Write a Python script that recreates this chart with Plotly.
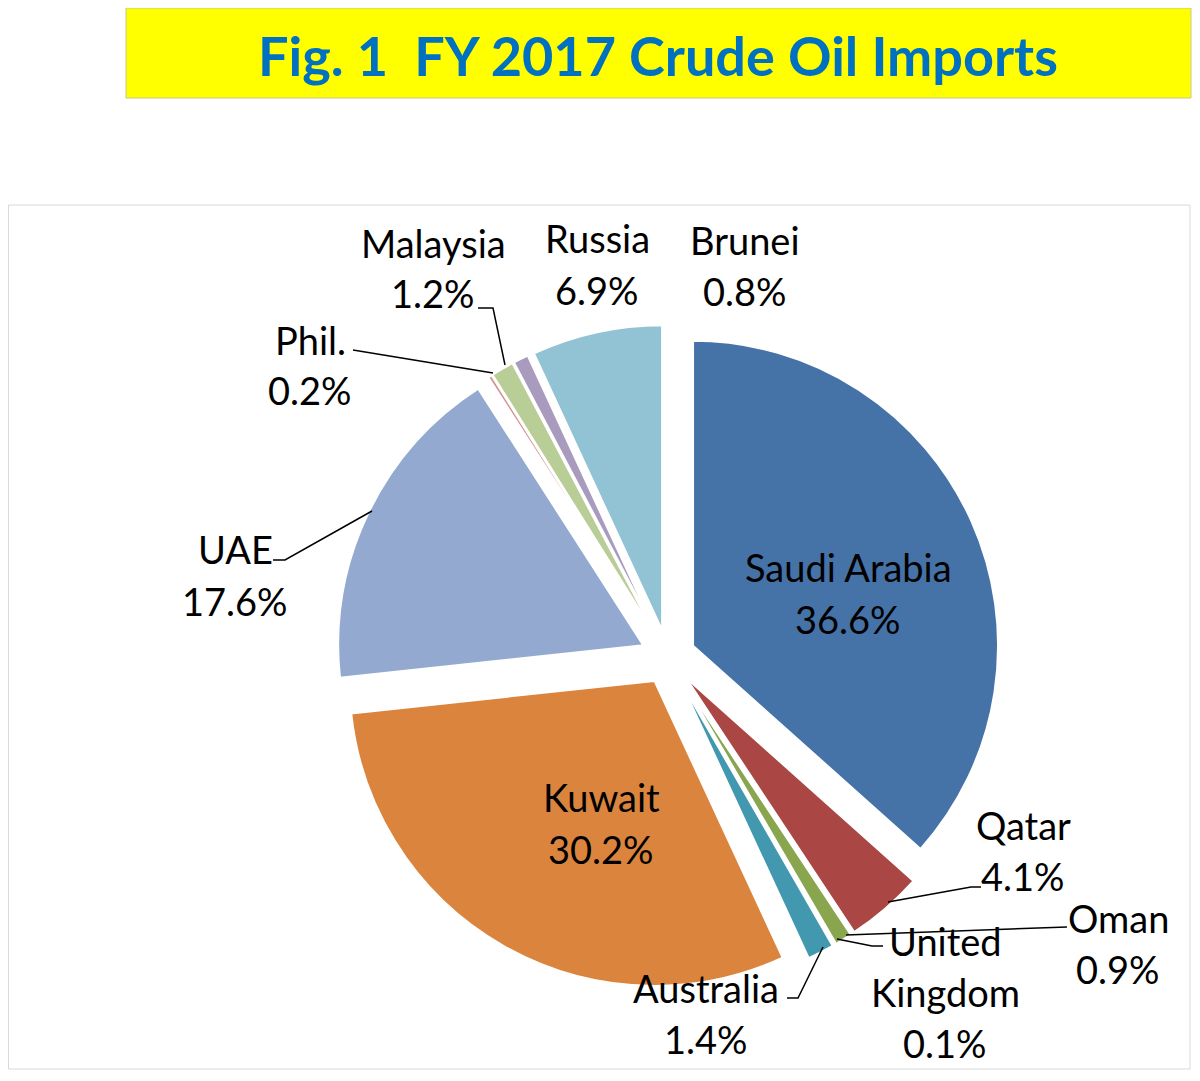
import plotly.graph_objects as go

# ---- data ----
countries = ["Saudi Arabia", "Qatar", "Oman", "United Kingdom", "Australia",
             "Kuwait", "UAE", "Phil.", "Malaysia", "Brunei", "Russia"]
shares = [36.6, 4.1, 0.9, 0.1, 1.4, 30.2, 17.6, 0.2, 1.2, 0.8, 6.9]
display_names = ["Saudi Arabia", "Qatar", "Oman", "United<br>Kingdom", "Australia",
                 "Kuwait", "UAE", "Phil.", "Malaysia", "Brunei", "Russia"]
slice_colors = ["#4572A7", "#AA4643", "#89A54E", "#71588F", "#4198AF",
                "#DB843D", "#93A9CF", "#D19392", "#B9CD96", "#A99BBD", "#92C3D4"]

# the page body has an 8px margin; the figure is sized/offset to compensate
OFF = 8
W, H = 1184, 1065

def px(x):
    return (x - OFF) / W

def py(y):
    return 1 - (y - OFF) / H

# pie geometry (page pixels)
cx, cy, R, PULL = 668, 657, 305, 0.09
half = R * (1 + PULL)

fig = go.Figure(go.Pie(
    labels=countries,
    values=shares,
    sort=False,
    direction="clockwise",
    rotation=0,
    pull=[PULL] * len(shares),
    marker=dict(colors=slice_colors, line=dict(color="white", width=2)),
    textinfo="none",
    hoverinfo="label+percent",
    showlegend=False,
    domain=dict(x=[px(cx - half), px(cx + half)], y=[py(cy + half), py(cy - half)]),
))

# label positions: (name x, name y, value y) in page pixels
label_pos = {
    "Saudi Arabia": (848, 567, 619),
    "Qatar": (1023, 825, 876),
    "Oman": (1118, 918, 969),
    "United Kingdom": (945, 941, 1043),
    "Australia": (706, 988, 1039),
    "Kuwait": (601, 797, 849),
    "UAE": (235, 549, 601),
    "Phil.": (310, 340, 390),
    "Malaysia": (433, 243, 293),
    "Brunei": (745, 240, 291),
    "Russia": (597, 238, 290),
}

FONT = "Lato, 'Liberation Sans', sans-serif"
FS = 38
annotations = []

def add_text(x, y, text, size=FS, color="black"):
    annotations.append(dict(x=px(x), y=py(y), xref="paper", yref="paper",
                            text=text, showarrow=False,
                            font=dict(family=FONT, size=size, color=color),
                            xanchor="center", yanchor="middle"))

for name, disp, val in zip(countries, display_names, shares):
    x, y1, y2 = label_pos[name]
    parts = disp.split("<br>")
    if len(parts) > 1:
        ys = [y1, (y1 + y2) / 2]
    else:
        ys = [y1]
    for p_, yy in zip(parts, ys):
        add_text(x, yy, p_)
    add_text(x, y2, f"{val:.1f}%")

# title
add_text(658, 55, "<b>Fig. 1  FY 2017 Crude Oil Imports</b>", size=54, color="#0070C0")

# leader lines (page-pixel polylines)
leaders = [
    [(981, 887), (971, 887), (888, 902)],
    [(1067, 927), (846, 935)],
    [(883, 946), (872, 946), (837, 939)],
    [(787, 998), (798, 998), (823, 947)],
    [(273, 560), (285, 560), (372, 511)],
    [(353, 350), (493, 373)],
    [(478, 308), (493, 308), (505, 365)],
]

shapes = [
    dict(type="rect", xref="paper", yref="paper", x0=px(126), x1=px(1191),
         y0=py(98), y1=py(8), fillcolor="#FFFF00", line=dict(color="#C8C88C", width=1), layer="below"),
    dict(type="rect", xref="paper", yref="paper", x0=px(8.5), x1=px(1190),
         y0=py(1069), y1=py(205), fillcolor="rgba(0,0,0,0)", line=dict(color="#D9D9D9", width=1), layer="below"),
]
for pts in leaders:
    path = "M " + " L ".join(f"{px(a)},{py(b)}" for a, b in pts)
    shapes.append(dict(type="path", xref="paper", yref="paper", path=path,
                       line=dict(color="black", width=1.5)))

fig.update_layout(
    width=W, height=H,
    margin=dict(l=0, r=0, t=0, b=0),
    paper_bgcolor="white", plot_bgcolor="white",
    annotations=annotations,
    shapes=shapes,
    showlegend=False,
)

fig.write_html("out.html")
